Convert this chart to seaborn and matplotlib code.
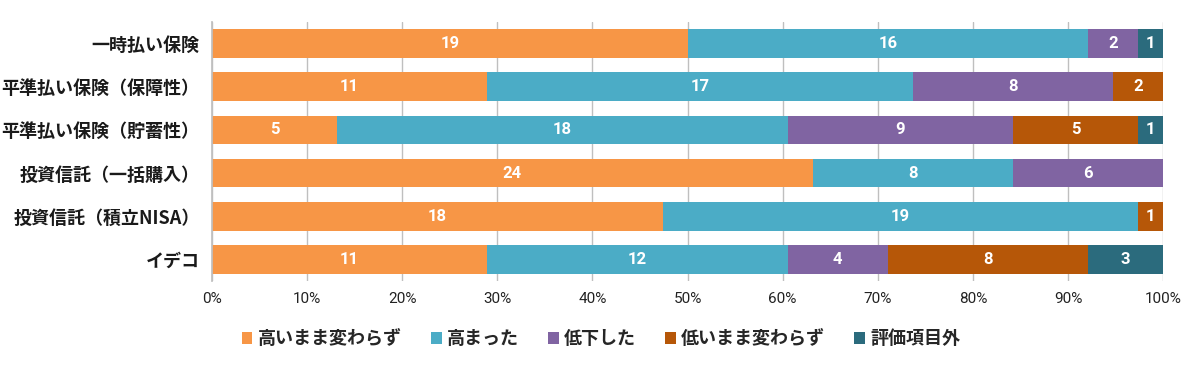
import numpy as np
import pandas as pd
import seaborn as sns
import matplotlib.pyplot as plt
from matplotlib.patches import Patch
from matplotlib.ticker import PercentFormatter

sns.set_theme(style="white")
plt.rcParams["font.family"] = ["Noto Sans CJK JP", "DejaVu Sans"]

# data
categories = ["一時払い保険", "平準払い保険（保障性）", "平準払い保険（貯蓄性）",
              "投資信託（一括購入）", "投資信託（積立NISA）", "イデコ"]
series = ["高いまま変わらず", "高まった", "低下した", "低いまま変わらず", "評価項目外"]
high_same = [19, 11, 5, 24, 18, 11]
raised = [16, 17, 18, 8, 19, 12]
lowered = [2, 8, 9, 6, 0, 4]
low_same = [0, 2, 5, 0, 1, 8]
not_rated = [1, 0, 1, 0, 0, 3]
colors = ["#F79646", "#4BACC6", "#8064A2", "#B65708", "#2B6B7D"]

df = pd.DataFrame({"category": categories, series[0]: high_same, series[1]: raised,
                   series[2]: lowered, series[3]: low_same, series[4]: not_rated})
counts = df[series].to_numpy(dtype=float)
pct = counts / counts.sum(axis=1, keepdims=True) * 100
cum = np.cumsum(pct, axis=1)

fig = plt.figure(figsize=(12.02, 3.65), dpi=100)
ax = fig.add_axes([0.1764, 0.23, 0.7912, 0.71])

# draw cumulative bars back to front so each segment shows through
for i in reversed(range(len(series))):
    sns.barplot(x=cum[:, i], y=categories, color=colors[i], orient="h",
                width=0.66, saturation=1, ax=ax, zorder=2, linewidth=0)

# segment labels
for r in range(len(categories)):
    for i in range(len(series)):
        if counts[r, i] > 0:
            mid = cum[r, i] - pct[r, i] / 2
            ax.text(mid, r, f"{int(counts[r, i])}", ha="center", va="center",
                    color="white", fontsize=12, fontweight="bold",
                    family=["Roboto", "DejaVu Sans"], zorder=3)

ax.set_xlim(0, 100)
ax.set_ylim(len(categories) - 0.5, -0.5)
ax.set_xticks(np.arange(0, 101, 10))
ax.xaxis.set_major_formatter(PercentFormatter(decimals=0))
ax.grid(axis="x", color="#BFBFBF", linewidth=1, zorder=0)
ax.set_axisbelow(True)
for s in ["top", "right", "bottom"]:
    ax.spines[s].set_visible(False)
ax.spines["left"].set_color("#BFBFBF")
ax.set_xlabel("")
ax.set_ylabel("")
ax.tick_params(axis="x", length=0, pad=8, labelsize=11, labelcolor="#222222")
ax.tick_params(axis="y", length=0, pad=9, labelsize=13, labelcolor="#1a1a1a")
for lbl in ax.get_yticklabels():
    lbl.set_fontweight("bold")
for lbl in ax.get_xticklabels():
    lbl.set_family(["Roboto", "DejaVu Sans"])

handles = [Patch(facecolor=c, edgecolor="none") for c in colors]
leg = fig.legend(handles, series, loc="center", bbox_to_anchor=(0.5, 0.072), ncol=5,
                 frameon=False, handlelength=0.6, handleheight=0.6, handletextpad=0.3,
                 columnspacing=1.6, prop={"size": 13, "weight": "bold"})

fig.savefig("out.png", dpi=100)
